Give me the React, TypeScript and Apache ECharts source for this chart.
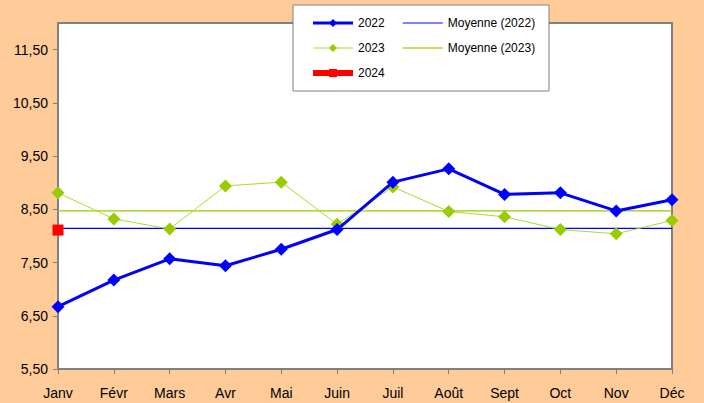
import React, { useEffect, useRef } from 'react';
import * as echarts from 'echarts';

const months = ['Janv', 'Févr', 'Mars', 'Avr', 'Mai', 'Juin', 'Juil', 'Août', 'Sept', 'Oct', 'Nov', 'Déc'];
const values2022 = [6.67, 7.17, 7.57, 7.44, 7.75, 8.12, 9.01, 9.26, 8.78, 8.81, 8.47, 8.68];
const values2023 = [8.81, 8.32, 8.13, 8.94, 9.01, 8.22, 8.92, 8.46, 8.36, 8.12, 8.04, 8.29];
const values2024 = [8.11];
const average2022 = 8.14;
const average2023 = 8.47;
const yTicks = [5.5, 6.5, 7.5, 8.5, 9.5, 10.5, 11.5];

const FONT = '"Liberation Sans", Arial, sans-serif';
const BLUE = '#0000FF';
const GREEN = '#99CC00';
const GREEN_LINE = '#AADD22';
const RED = '#FF0000';
const GRAY = '#808080';

export default function App() {
  const ref = useRef<HTMLDivElement>(null);
  useEffect(() => {
    if (!ref.current) return;
    const chart = echarts.init(ref.current, undefined, { renderer: 'svg' });
    const legendCommon = {
      orient: 'vertical',
      top: 17,
      padding: 0,
      itemWidth: 40,
      itemHeight: 10,
      itemGap: 13,
      z: 10,
      textStyle: { fontSize: 12, color: '#000', fontFamily: FONT },
    };
    chart.setOption({
      animation: false,
      backgroundColor: '#FFCC99',
      textStyle: { fontFamily: FONT },
      grid: {
        left: 58,
        right: 32,
        top: 23,
        bottom: 34,
        show: true,
        backgroundColor: '#FFFFFF',
        borderColor: GRAY,
        borderWidth: 2,
      },
      graphic: [
        {
          type: 'rect',
          z: 3,
          shape: { x: 293, y: 5, width: 256, height: 86 },
          style: { fill: '#FFFFFF', stroke: GRAY, lineWidth: 1 },
        },
      ],
      legend: [
        {
          ...legendCommon,
          left: 310,
          data: [
            { name: '2022', itemStyle: { color: BLUE }, lineStyle: { width: 3, color: BLUE } },
            { name: '2023', itemStyle: { color: GREEN }, lineStyle: { width: 1, color: GREEN_LINE } },
            { name: '2024', itemStyle: { color: RED }, lineStyle: { width: 6, color: RED } },
          ],
        },
        {
          ...legendCommon,
          left: 402,
          data: [
            { name: 'Moyenne (2022)', itemStyle: { opacity: 0 }, lineStyle: { width: 1.5, color: '#5555FF' } },
            { name: 'Moyenne (2023)', itemStyle: { opacity: 0 }, lineStyle: { width: 1.5, color: GREEN_LINE } },
          ],
        },
      ],
      xAxis: {
        type: 'category',
        data: months,
        boundaryGap: false,
        axisLine: { lineStyle: { color: GRAY, width: 2 } },
        axisTick: { length: 5, lineStyle: { color: GRAY } },
        axisLabel: { color: '#000', fontSize: 14, margin: 17, fontFamily: FONT },
        splitLine: { show: false },
      },
      yAxis: {
        type: 'value',
        min: 5.5,
        max: 12,
        axisLine: { show: true, lineStyle: { color: GRAY, width: 2 } },
        axisTick: { show: true, length: 5, lineStyle: { color: GRAY }, customValues: yTicks },
        axisLabel: {
          color: '#000',
          fontSize: 14,
          margin: 10,
          fontFamily: FONT,
          customValues: yTicks,
          formatter: (v: number) => v.toFixed(2).replace('.', ','),
        },
        splitLine: { show: false },
      },
      series: [
        {
          name: 'Moyenne (2022)',
          type: 'line',
          data: months.map(() => average2022),
          symbol: 'none',
          color: BLUE,
          lineStyle: { width: 1.3, color: BLUE },
          z: 2,
        },
        {
          name: 'Moyenne (2023)',
          type: 'line',
          data: months.map(() => average2023),
          symbol: 'none',
          color: GREEN,
          lineStyle: { width: 1.3, color: GREEN },
          z: 2,
        },
        {
          name: '2023',
          type: 'line',
          data: values2023,
          symbol: 'diamond',
          symbolSize: 13,
          color: GREEN,
          itemStyle: { color: GREEN },
          lineStyle: { width: 1, color: GREEN_LINE },
          z: 3,
        },
        {
          name: '2022',
          type: 'line',
          data: values2022,
          symbol: 'diamond',
          symbolSize: 13,
          color: BLUE,
          itemStyle: { color: BLUE },
          lineStyle: { width: 3, color: BLUE },
          z: 4,
        },
        {
          name: '2024',
          type: 'line',
          data: values2024,
          symbol: 'rect',
          symbolSize: 11,
          color: RED,
          itemStyle: { color: RED },
          lineStyle: { width: 5, color: RED },
          z: 5,
        },
      ],
    });
    return () => chart.dispose();
  }, []);
  return <div ref={ref} style={{ position: 'fixed', left: 0, top: 0, width: 704, height: 403 }} />;
}
